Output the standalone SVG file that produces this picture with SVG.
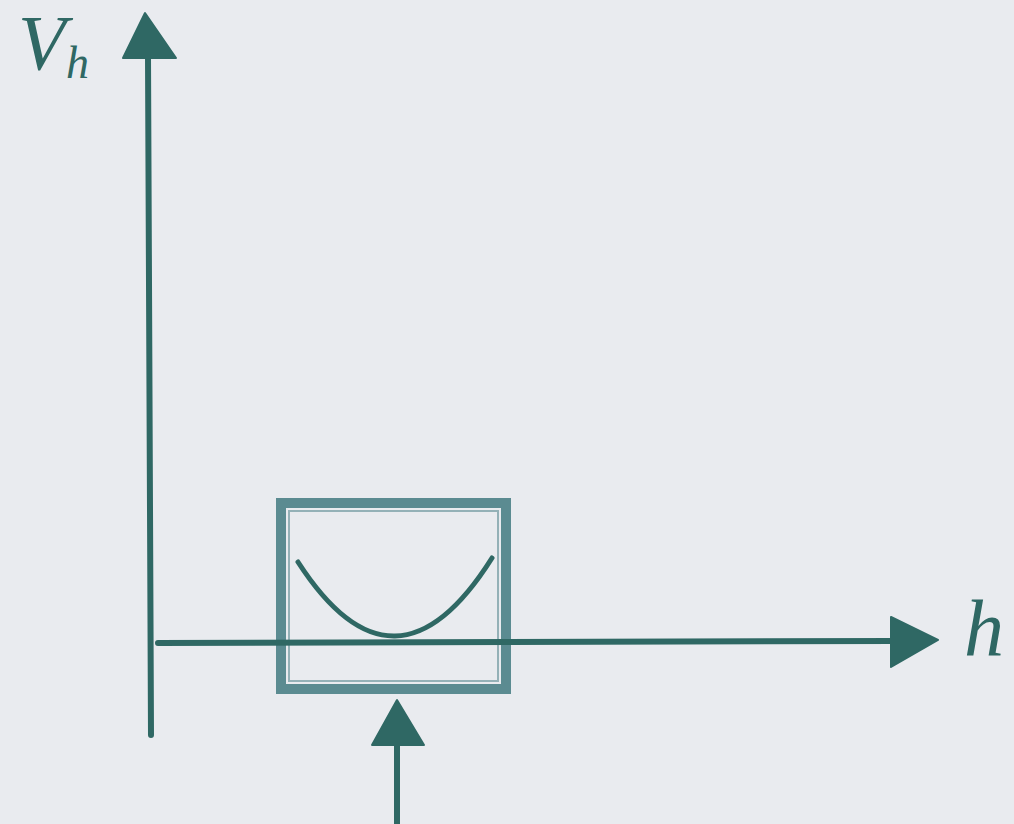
<svg xmlns="http://www.w3.org/2000/svg" width="1014" height="824" viewBox="0 0 1014 824">
  <style>
    .ax { stroke: #2f6864; stroke-width: 6; fill: none; stroke-linecap: round; }
    .head { fill: #2f6864; stroke: #2f6864; stroke-width: 2; stroke-linejoin: round; }
    .box { stroke: #5b8b91; stroke-width: 10; fill: none; }
    .boxin { stroke: #5b8b91; stroke-width: 2; fill: none; opacity: 0.6; }
    .curve { stroke: #2f6864; stroke-width: 5; fill: none; stroke-linecap: round; }
    .lbl { font-family: "Liberation Serif", "DejaVu Serif", serif; font-style: italic; fill: #2f6864; }
  </style>
  <rect width="1014" height="824" fill="#e9ebef"/>

  <g id="box-node">
    <rect class="box" x="281" y="503" width="225" height="186"/>
    <rect class="boxin" x="289" y="511" width="209" height="170"/>
    <path class="curve" d="M298,562 Q395,712 492,558"/>
  </g>

  <g id="connectors">
    <g id="v-axis">
      <line class="ax" x1="151" y1="735" x2="148" y2="56"/>
      <polygon class="head" points="145,13 123,58 176,58"/>
    </g>
    <g id="h-axis">
      <line class="ax" x1="158" y1="643" x2="895" y2="641"/>
      <polygon class="head" points="891,617 938,640 891,667"/>
    </g>
    <g id="input-arrow">
      <line class="ax" x1="397" y1="824" x2="397" y2="742"/>
      <polygon class="head" points="397,700 372,745 424,745"/>
    </g>
  </g>

  <g id="labels">
    <text class="lbl" x="18" y="69" font-size="78">V</text>
    <text class="lbl" x="66" y="78" font-size="46">h</text>
    <text class="lbl" x="964" y="655" font-size="80">h</text>
  </g>
</svg>
